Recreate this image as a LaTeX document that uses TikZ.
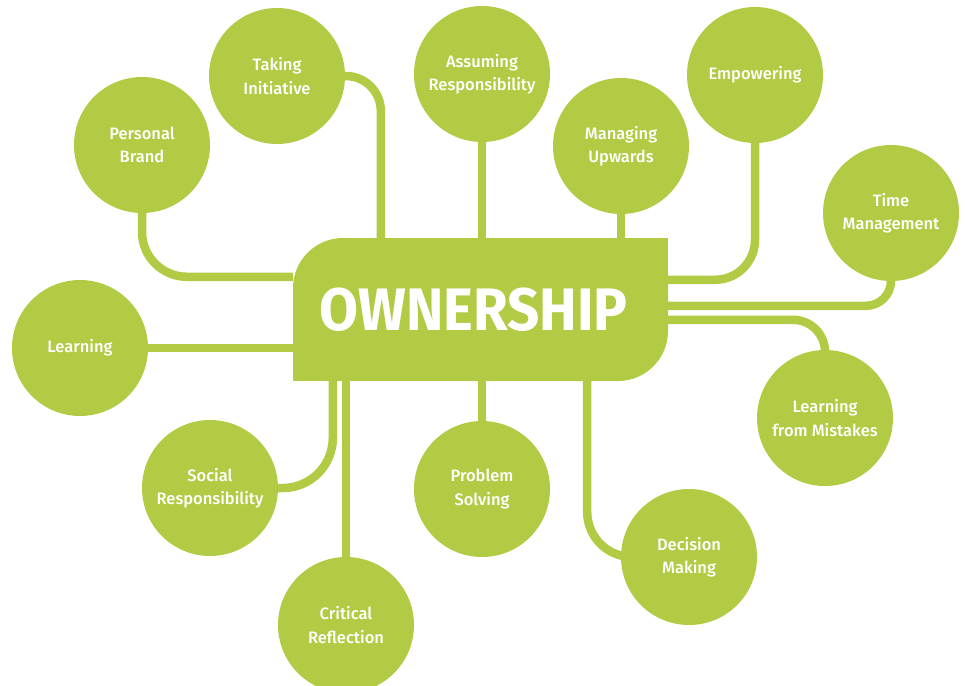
\documentclass[tikz,border=0pt]{standalone}
\usepackage{fontspec}
\setmainfont{Fira Sans}[UprightFont=* Medium, BoldFont=* Bold]
\definecolor{leaf}{RGB}{178,203,68}
\begin{document}
\begin{tikzpicture}[x=1pt, y=-1pt,
  topic/.style={circle, fill=leaf, text=white, minimum size=136pt, inner sep=0pt, align=center, font=\fontsize{16.5}{23.5}\selectfont},
  link/.style={draw=leaf, line width=8.5pt},
  hub/.style={fill=leaf, rounded corners=50pt, minimum width=375pt, minimum height=143pt, inner sep=0pt, text=white, font=\bfseries\fontsize{60}{60}\selectfont}]
\useasboundingbox (0,0) rectangle (965,685);
\fill[leaf] (608,238) rectangle (668,298);
\fill[leaf] (293,321) rectangle (353,381);
\node (own) at (480.5,309.5) [hub] {\scalebox{0.94}[1]{OWNERSHIP}\kern14pt};

\node (pb) at (142,145) [topic] {Personal\\Brand};
\node (ti) at (277,76) [topic] {Taking\\Initiative};
\node (ar) at (482,74) [topic] {Assuming\\Responsibility};
\node (mu) at (621,146) [topic] {Managing\\Upwards};
\node (em) at (755,75) [topic] {Empowering};
\node (tm) at (891,213) [topic] {Time\\Management};
\node (le) at (80,348) [topic] {Learning};
\node (sr) at (210,488) [topic] {Social\\Responsibility};
\node (cr) at (346,625) [topic] {Critical\\Reflection};
\node (ps) at (482,489) [topic] {Problem\\Solving};
\node (dm) at (689,557) [topic] {Decision\\Making};
\node (lm) at (825,418) [topic] {Learning\\from Mistakes};

\draw[link, rounded corners=45pt] (pb.south) |- ([yshift=-39pt]own.north west);
\draw[link, rounded corners=35pt] (ti.east) -| ([xshift=88pt]own.north west);
\draw[link] (ar.south) -- (ar.south |- own.north);
\draw[link] (mu.south) -- (mu.south |- own.north);
\draw[link, rounded corners=40pt] (em.south) |- ([yshift=-42pt]own.north east);
\draw[link, rounded corners=25pt] (tm.south) |- ([yshift=-68pt]own.north east);
\draw[link, rounded corners=32pt] ([yshift=-82pt]own.north east) -| (lm.north);
\draw[link] (le.east) -- (le.east -| own.west);
\draw[link, rounded corners=50pt] (sr.east) -| ([xshift=40pt]own.south west);
\draw[link] (cr.north) -- (cr.north |- own.south);
\draw[link] (ps.north) -- (ps.north |- own.south);
\draw[link, rounded corners=45pt] ([xshift=-81pt]own.south east) |- (dm.west);
\end{tikzpicture}
\end{document}
